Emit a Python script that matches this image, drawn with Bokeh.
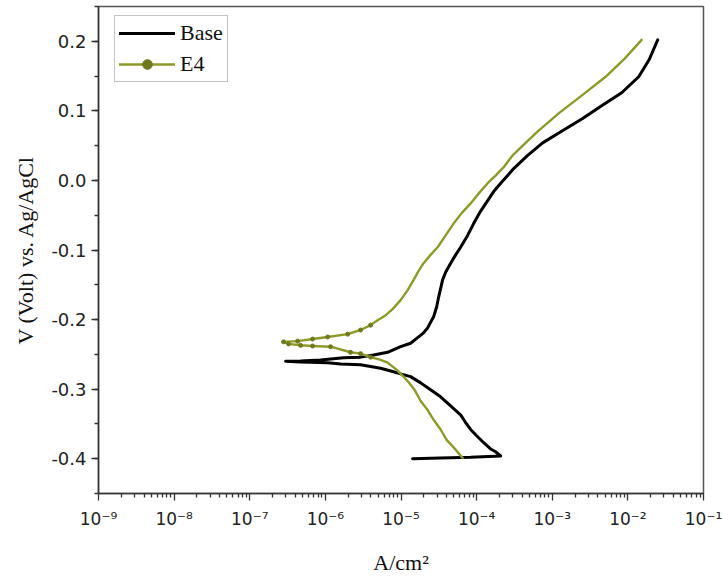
from bokeh.plotting import figure
from bokeh.models import (Range1d, FixedTicker, SingleIntervalTicker, CustomJSTickFormatter,
                          PrintfTickFormatter, Legend, LegendItem)
from bokeh.embed import file_html
from bokeh.resources import INLINE

# ---------------- data ----------------
# Base: scan starts at -0.4 V, cathodic branch up to Ecorr, then anodic branch
base_current = [1.42e-5, 3.34e-5, 8.33e-5, 2.08e-4,
                1.78e-4, 1.53e-4, 1.24e-4, 1.00e-4, 8.33e-5, 7.15e-5, 6.14e-5, 4.96e-5,
                4.13e-5, 3.34e-5, 2.46e-5, 1.82e-5, 1.34e-5, 9.88e-6, 7.98e-6, 5.37e-6,
                2.92e-6, 1.59e-6, 1.07e-6, 4.70e-7, 2.98e-7,
                4.70e-7, 8.64e-7, 1.74e-6, 2.92e-6, 4.34e-6, 6.65e-6, 9.88e-6, 1.34e-5,
                1.66e-5, 1.99e-5, 2.25e-5, 2.46e-5, 2.70e-5, 2.96e-5, 3.14e-5, 3.55e-5,
                3.89e-5, 4.53e-5, 5.28e-5, 6.14e-5, 7.60e-5, 9.13e-5, 1.13e-4, 1.40e-4,
                1.68e-4, 2.08e-4, 2.57e-4, 3.09e-4, 4.73e-4, 7.46e-4, 1.25e-3, 2.52e-3,
                4.50e-3, 8.28e-3, 1.39e-2, 1.91e-2, 2.48e-2]
base_potential = [-0.400, -0.399, -0.398, -0.396,
                  -0.390, -0.386, -0.377, -0.367, -0.358, -0.348, -0.337, -0.328,
                  -0.320, -0.311, -0.301, -0.291, -0.282, -0.278, -0.275, -0.270,
                  -0.265, -0.264, -0.262, -0.261, -0.260,
                  -0.2595, -0.258, -0.255, -0.254, -0.251, -0.247, -0.239, -0.234,
                  -0.226, -0.219, -0.212, -0.204, -0.196, -0.182, -0.168, -0.143,
                  -0.132, -0.119, -0.107, -0.096, -0.079, -0.062, -0.044, -0.029,
                  -0.016, -0.004, 0.007, 0.017, 0.036, 0.054, 0.069, 0.089,
                  0.1075, 0.126, 0.149, 0.1735, 0.202]

# E4: cathodic branch from -0.4 V up to Ecorr, then anodic branch
e4_current = [6.53e-5, 5.28e-5, 4.01e-5, 3.34e-5, 2.70e-5, 2.25e-5, 1.82e-5, 1.51e-5,
              1.26e-5, 1.08e-5, 8.74e-6, 6.65e-6, 5.37e-6, 3.96e-6, 2.92e-6, 2.15e-6,
              1.17e-6, 6.77e-7, 4.70e-7, 3.26e-7,
              2.80e-7, 4.29e-7, 6.77e-7, 1.07e-6, 1.97e-6, 2.92e-6, 3.96e-6, 4.90e-6,
              6.07e-6, 7.74e-6, 9.88e-6, 1.22e-5, 1.47e-5, 1.71e-5, 1.99e-5, 2.46e-5,
              3.05e-5, 3.89e-5, 4.96e-5, 6.33e-5, 8.33e-5, 1.06e-4, 1.40e-4, 1.78e-4,
              2.28e-4, 2.99e-4, 6.22e-4, 1.25e-3, 2.52e-3, 5.08e-3, 9.07e-3, 1.52e-2]
e4_potential = [-0.399, -0.387, -0.373, -0.358, -0.344, -0.330, -0.317, -0.301,
                -0.290, -0.282, -0.272, -0.262, -0.258, -0.254, -0.249, -0.247,
                -0.239, -0.238, -0.237, -0.235,
                -0.232, -0.231, -0.228, -0.225, -0.221, -0.215, -0.208, -0.201,
                -0.195, -0.185, -0.172, -0.158, -0.143, -0.130, -0.119, -0.107,
                -0.096, -0.079, -0.062, -0.047, -0.033, -0.019, -0.004, 0.007,
                0.019, 0.036, 0.069, 0.0975, 0.123, 0.149, 0.175, 0.202]

x_major_ticks = [1e-9, 1e-8, 1e-7, 1e-6, 1e-5, 1e-4, 1e-3, 1e-2, 1e-1]
x_minor_ticks = [m * t for t in x_major_ticks[:-1] for m in range(2, 10)]

series_names = ["Base", "E4"]
x_title = "A/cm²"
y_title = "V (Volt) vs. Ag/AgCl"

BASE_COLOR = "#000000"
E4_COLOR = "#8e9a28"
E4_DOT = "#6f7a1c"

# points of E4 where the measured symbols are visible (sparse region near Ecorr)
dot_x = [c for c, v in zip(e4_current, e4_potential) if c < 4.5e-6 and v > -0.26]
dot_y = [v for c, v in zip(e4_current, e4_potential) if c < 4.5e-6 and v > -0.26]

# ---------------- figure ----------------
p = figure(x_axis_type="log", x_range=Range1d(1e-9, 1e-1), y_range=Range1d(-0.45, 0.25),
           frame_width=605, frame_height=487,
           min_border_left=98, min_border_right=20, min_border_top=6, min_border_bottom=87,
           output_backend="svg", toolbar_location=None, background_fill_color="white",
           border_fill_color="white")
p.grid.visible = False
p.outline_line_color = "#555555"
p.outline_line_width = 1.5

# x axis
xa = p.xaxis[0]
xa.ticker = FixedTicker(ticks=x_major_ticks, minor_ticks=x_minor_ticks)
xa.formatter = CustomJSTickFormatter(code="""
const sup = {'-':'\u207b','0':'\u2070','1':'\u00b9','2':'\u00b2','3':'\u00b3','4':'\u2074',
             '5':'\u2075','6':'\u2076','7':'\u2077','8':'\u2078','9':'\u2079'};
const e = Math.round(Math.log10(tick));
return '10' + String(e).split('').map(c => sup[c]).join('');
""")
xa.axis_label = x_title
xa.axis_label_text_font = "Liberation Serif"
xa.axis_label_text_font_style = "normal"
xa.axis_label_text_font_size = "22px"
xa.axis_label_text_color = "#111111"
xa.axis_label_standoff = 18
xa.major_label_text_font = "DejaVu Sans"
xa.major_label_text_font_size = "17px"
xa.major_label_text_color = "#222222"
xa.major_label_standoff = 8

# y axis
ya = p.yaxis[0]
ya.ticker = SingleIntervalTicker(interval=0.1, num_minor_ticks=2)
ya.formatter = PrintfTickFormatter(format="%.1f")
ya.axis_label = y_title
ya.axis_label_text_font = "Liberation Serif"
ya.axis_label_text_font_style = "normal"
ya.axis_label_text_font_size = "22px"
ya.axis_label_text_color = "#111111"
ya.axis_label_standoff = 10
ya.major_label_text_font = "DejaVu Sans"
ya.major_label_text_font_size = "18px"
ya.major_label_text_color = "#222222"
ya.major_label_standoff = 5

for ax in (xa, ya):
    ax.axis_line_color = "#333333"
    ax.axis_line_width = 1.5
    ax.major_tick_line_color = "#333333"
    ax.minor_tick_line_color = "#333333"
    ax.major_tick_line_width = 1.3
    ax.minor_tick_line_width = 1.3
    ax.major_tick_in = 0
    ax.major_tick_out = 7
    ax.minor_tick_in = 0
    ax.minor_tick_out = 4

# ---------------- curves ----------------
r_base = p.line(base_current, base_potential, line_color=BASE_COLOR, line_width=3,
                line_join="round", line_cap="round")
r_e4 = p.line(e4_current, e4_potential, line_color=E4_COLOR, line_width=2.4,
              line_join="round", line_cap="round")
r_dots = p.scatter(dot_x, dot_y, size=4, fill_color=E4_DOT, line_color=E4_DOT,
                   marker="circle")

legend = Legend(items=[LegendItem(label=series_names[0], renderers=[r_base]),
                       LegendItem(label=series_names[1], renderers=[r_e4, r_dots])],
                location=(16, 411), orientation="vertical",
                label_text_font="Liberation Serif", label_text_font_size="22px",
                label_text_color="#111111",
                glyph_width=56, glyph_height=24, label_height=24, label_standoff=5,
                spacing=5, padding=4, margin=0,
                border_line_color="#888888", border_line_width=1.2,
                background_fill_color="white", background_fill_alpha=1.0)
p.add_layout(legend)

open("out.html", "w").write(file_html(p, INLINE))
